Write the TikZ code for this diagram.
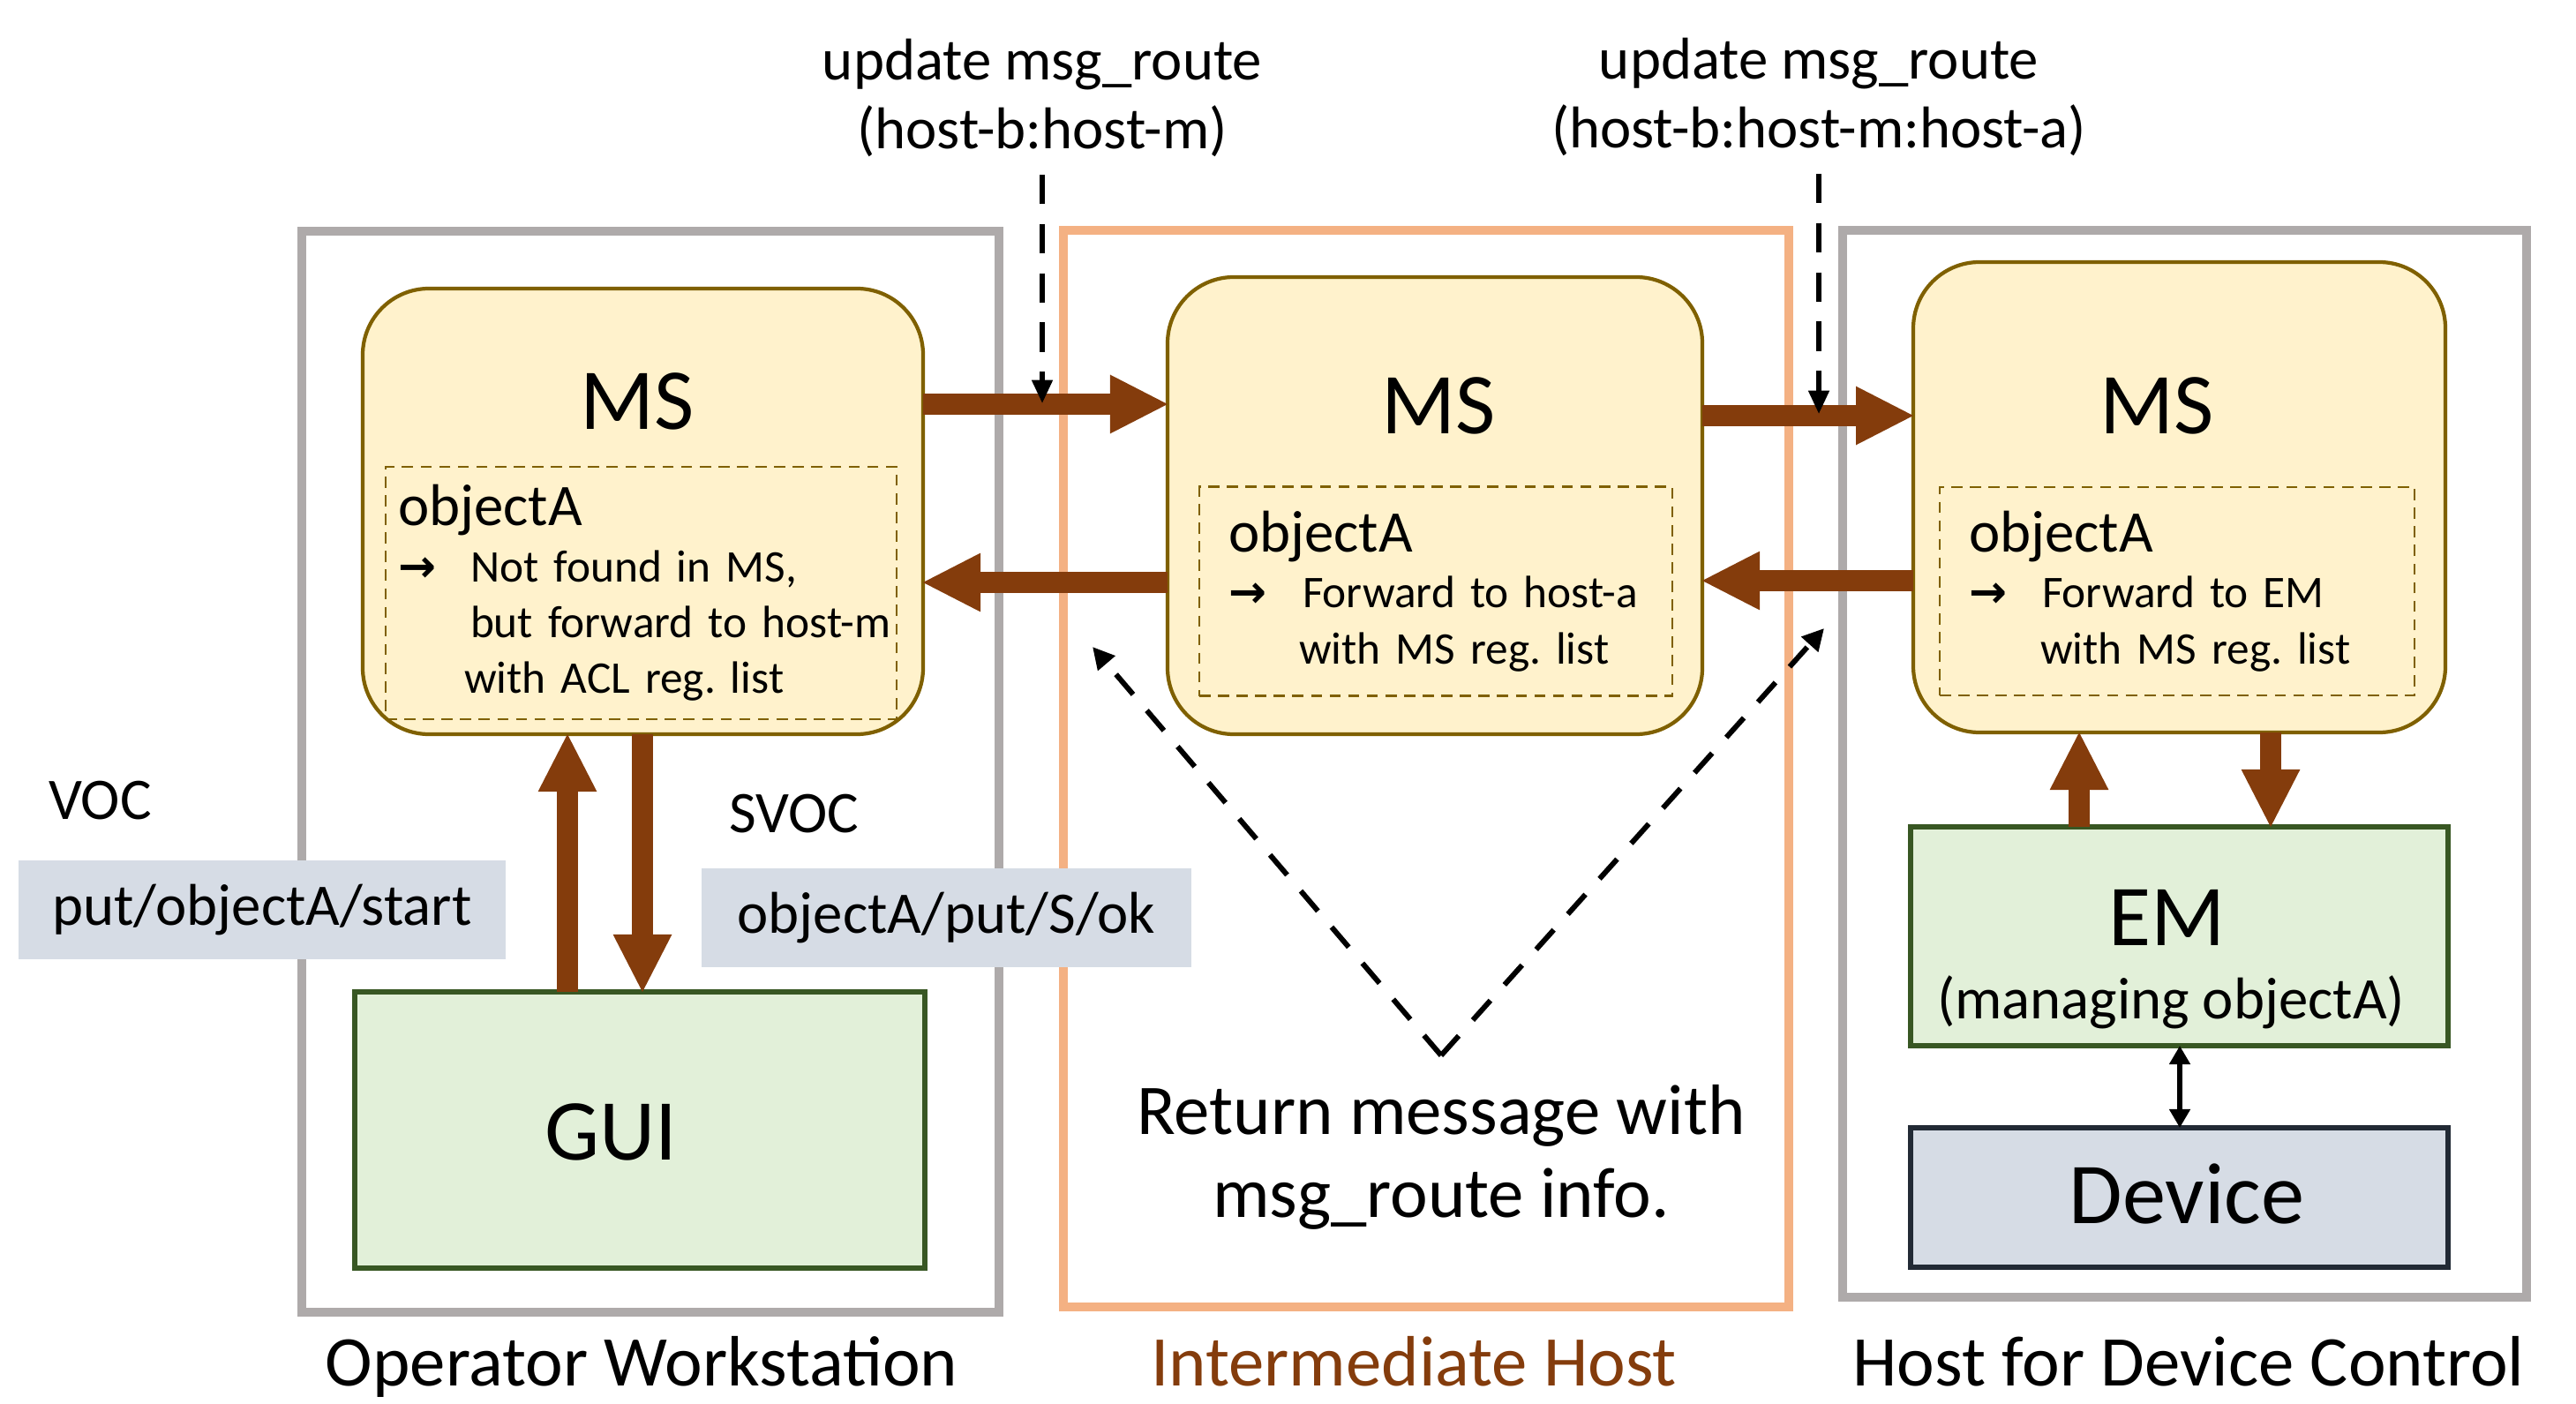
\documentclass[tikz,border=0pt]{standalone}
\usepackage{fontspec}
\setmainfont{Carlito}
\newfontfamily\arrowfont{DejaVu Sans}
\usetikzlibrary{arrows.meta}

\definecolor{msfill}{HTML}{FFF2CC}
\definecolor{msline}{HTML}{7F6000}
\definecolor{emfill}{HTML}{E2F0D9}
\definecolor{emline}{HTML}{385723}
\definecolor{devfill}{HTML}{D6DCE5}
\definecolor{devline}{HTML}{222A35}
\definecolor{hostgray}{HTML}{AEAAAA}
\definecolor{hostorange}{HTML}{F4B183}
\definecolor{msgbrown}{HTML}{843C0C}

\newcommand{\bigfont}{\fontsize{28}{32}\selectfont}
\newcommand{\midfont}{\fontsize{19}{22.2}\selectfont}
\newcommand{\smallfont}{\fontsize{14.6}{18}\selectfont}
\newcommand{\capfont}{\fontsize{23}{26.7}\selectfont}
\newcommand{\fwd}{{\arrowfont\bfseries →}}

\tikzset{
	every node/.style={inner sep=0pt, outer sep=0pt},
	host/.style={draw=hostgray, line width=2.8pt},
	msbox/.style={draw=msline, fill=msfill, line width=1.2pt, rounded corners=0.75cm},
	objbox/.style={draw=msline, line width=0.8pt, dash pattern=on 3.6pt off 2.4pt,
		align=left, font=\smallfont\frenchspacing, inner ysep=0pt},
	embox/.style={draw=emline, fill=emfill, line width=1.7pt},
	devbox/.style={draw=devline, fill=devfill, line width=1.7pt},
	msgbox/.style={fill=devfill, minimum height=1.12cm, font=\midfont},
	brarrow/.style={draw=msgbrown, line width=6.8pt,
		-{Triangle[width=19pt, length=18.5pt, line width=0pt]}},
	devarrow/.style={line width=1.6pt,
		{Triangle[width=6.5pt, length=6pt]}-{Triangle[width=6.5pt, length=6pt]}},
	routearrow/.style={line width=1.5pt, dash pattern=on 9.4pt off 6.5pt,
		-{Triangle[width=6.5pt, length=7.5pt]}},
	retarrow/.style={line width=1.7pt, dash pattern=on 8.5pt off 6.8pt,
		-{Triangle[width=7pt, length=7pt]}}
}

\begin{document}
\begin{tikzpicture}
	\useasboundingbox (0,0) rectangle (29.19,-15.91);
	
	%Hosts
	\draw[host] (3.42,-2.62) rectangle (11.32,-14.87);
	\draw[host, draw=hostorange] (12.05,-2.61) rectangle (20.27,-14.81);
	\draw[host] (20.88,-2.61) rectangle (28.63,-14.70);
	
	\node[font=\capfont, anchor=base] (owlbl) at (7.27,-15.70) {Operator Workstation};
	\node[font=\capfont, anchor=base, text=msgbrown] (ihlbl) at (16.02,-15.70) {Intermediate Host};
	\node[font=\capfont, anchor=base] (hdlbl) at (24.80,-15.70) {Host for Device Control};
	
	%MS
	\node[msbox, minimum width=6.35cm, minimum height=5.05cm] (ms1) at (7.285,-5.795) {};
	\node[msbox, minimum width=6.06cm, minimum height=5.18cm] (ms2) at (16.26,-5.73) {};
	\node[msbox, minimum width=6.03cm, minimum height=5.33cm] (ms3) at (24.695,-5.635) {};
	
	\node[font=\bigfont, anchor=base] (ms1lbl) at (7.22,-4.86) {MS};
	\node[font=\bigfont, anchor=base] (ms2lbl) at (16.30,-4.91) {MS};
	\node[font=\bigfont, anchor=base] (ms3lbl) at (24.44,-4.91) {MS};
	
	\node[objbox, text width=5.51cm, inner xsep=0.14cm, minimum height=2.86cm] (obj1) at (7.265,-6.72)
	{{\midfont objectA}\\
		\makebox[0.82cm][l]{\fwd}Not found in MS,\\
		\hspace*{0.82cm}\mbox{but forward to host-m}\\
		\hspace*{0.75cm}with ACL reg. list};
	\node[objbox, text width=4.70cm, inner xsep=0.33cm, minimum height=2.37cm] (obj2) at (16.27,-6.70)
	{{\midfont objectA}\\
		\makebox[0.84cm][l]{\fwd}Forward to host-a\\
		\hspace*{0.80cm}with MS reg. list};
	\node[objbox, text width=4.72cm, inner xsep=0.33cm, minimum height=2.36cm] (obj3) at (24.67,-6.70)
	{{\midfont objectA}\\
		\makebox[0.83cm][l]{\fwd}Forward to EM\\
		\hspace*{0.81cm}with MS reg. list};
	
	%GUI, EM, Device
	\node[embox, minimum width=6.46cm, minimum height=3.13cm] (gui) at (7.25,-12.805) {};
	\node[font=\bigfont, anchor=base] (guilbl) at (6.92,-13.14) {GUI};
	
	\node[embox, minimum width=6.09cm, minimum height=2.48cm] (em) at (24.695,-10.61) {};
	\node[font=\bigfont, anchor=base] (emlbl) at (24.56,-10.71) {EM};
	\node[font=\midfont, anchor=base] (emsub) at (24.60,-11.54) {(managing objectA)};
	
	\node[devbox, minimum width=6.09cm, minimum height=1.58cm] (dev) at (24.695,-13.57) {};
	\node[font=\bigfont, anchor=base] (devlbl) at (24.78,-13.86) {Device};
	
	%Messages
	\node[msgbox, minimum width=5.52cm] (voc) at (2.97,-10.31) {put/objectA/start};
	\node[msgbox, minimum width=5.55cm] (svoc) at (10.725,-10.40) {objectA/put/S/ok};
	\node[font=\midfont, anchor=base west] (voclbl) at (0.55,-9.28) {VOC};
	\node[font=\midfont, anchor=base west] (svoclbl) at (8.26,-9.43) {SVOC};
	
	\node[font=\midfont, align=center] (upd1) at (11.81,-1.11) {update msg\_route\\(host-b:host-m)};
	\node[font=\midfont, align=center] (upd2) at (20.61,-1.10) {update msg\_route\\(host-b:host-m:host-a)};
	
	\node[font=\capfont, align=center] (retlbl) at (16.33,-13.11) {Return message with\\msg\_route info.};
	
	%Pfeile
	\draw[brarrow] (ms1.east |- 0,-4.58) -- (ms2.west |- 0,-4.58);
	\draw[brarrow] (ms2.east |- 0,-4.71) -- (ms3.west |- 0,-4.71);
	\draw[brarrow] (ms2.west |- 0,-6.60) -- (ms1.east |- 0,-6.60);
	\draw[brarrow] (ms3.west |- 0,-6.58) -- (ms2.east |- 0,-6.58);
	\draw[brarrow] (gui.north -| 6.43,0) -- (ms1.south -| 6.43,0);
	\draw[brarrow] (ms1.south -| 7.28,0) -- (gui.north -| 7.28,0);
	\draw[brarrow] (em.north -| 23.56,0) -- (ms3.south -| 23.56,0);
	\draw[brarrow] (ms3.south -| 25.73,0) -- (em.north -| 25.73,0);
	\draw[devarrow] (em.south -| 24.70,0) -- (dev.north -| 24.70,0);
	
	\coordinate (rt1) at (11.80,-4.57);
	\coordinate (rt2) at (20.57,-4.69);
	\draw[routearrow] ([yshift=-0.2cm]upd1.south) -- (upd1.south |- rt1);
	\draw[routearrow] ([yshift=-0.2cm]upd2.south) -- (upd2.south |- rt2);
	
	\coordinate (vtip) at (16.33,-11.96);
	\coordinate (vleft) at (12.38,-7.33);
	\coordinate (vright) at (20.67,-7.12);
	\draw[retarrow] (vtip) -- (vleft);
	\draw[retarrow] (vtip) -- (vright);
	
\end{tikzpicture}
\end{document}
